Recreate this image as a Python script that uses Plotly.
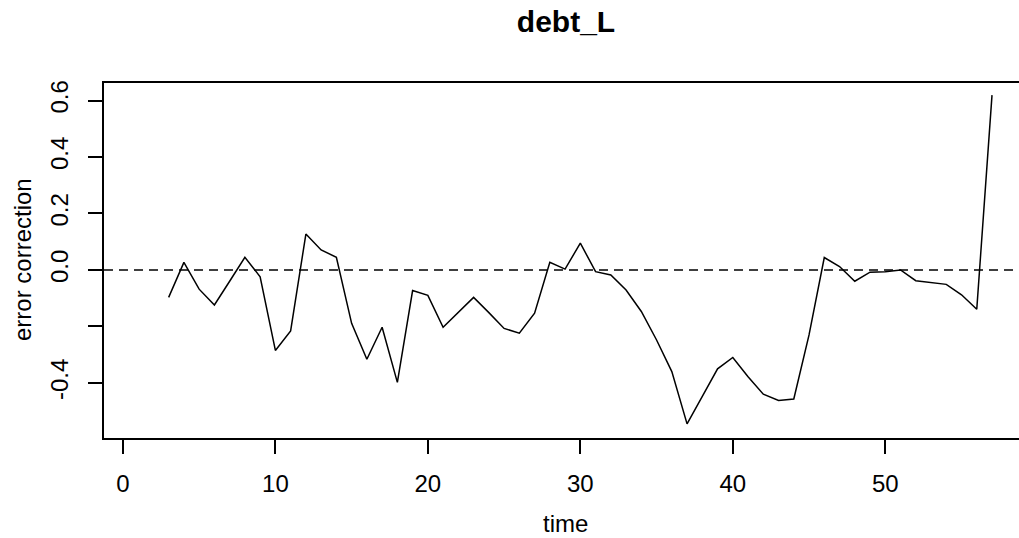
import plotly.graph_objects as go

# data
time = list(range(3, 58))
error_correction = [
    -0.097, 0.027, -0.068, -0.124, -0.040, 0.045, -0.024, -0.285, -0.216, 0.127,
    0.071, 0.045, -0.189, -0.316, -0.203, -0.398, -0.073, -0.090, -0.203, -0.150,
    -0.097, -0.151, -0.207, -0.224, -0.153, 0.027, 0.003, 0.095, -0.006, -0.018,
    -0.071, -0.147, -0.248, -0.360, -0.545, -0.448, -0.350, -0.310, -0.378, -0.440,
    -0.462, -0.457, -0.230, 0.044, 0.012, -0.040, -0.008, -0.006, 0.000, -0.038,
    -0.044, -0.051, -0.088, -0.139, 0.619,
]
x_ticks = [0, 10, 20, 30, 40, 50]
y_ticks = [-0.4, -0.2, 0.0, 0.2, 0.4, 0.6]
y_tick_text = ["-0.4", "", "0.0", "0.2", "0.4", "0.6"]

FONT = "Liberation Sans, Arial, sans-serif"
W, H = 1019, 538

fig = go.Figure()
fig.add_trace(go.Scatter(
    x=time, y=error_correction, mode="lines",
    line=dict(color="black", width=1.5), showlegend=False,
))

fig.add_shape(type="line", xref="paper", yref="y", x0=0, x1=1, y0=0, y1=0,
              line=dict(color="black", width=1.5, dash="9px,6px"))

fig.update_layout(
    width=W, height=H,
    margin=dict(l=104, r=0, t=83, b=100),
    paper_bgcolor="white", plot_bgcolor="white",
    font=dict(family=FONT, color="black", size=24),
    title=dict(text="<b>debt_L</b>", x=566 / W, xanchor="center",
               y=1 - 21 / H, yref="container", yanchor="middle",
               font=dict(size=30, family=FONT, color="black")),
)
fig.update_layout(title_xref="container")

fig.update_xaxes(
    range=[-1.24, 58.77], showgrid=False, zeroline=False,
    showline=True, mirror=True, linecolor="black", linewidth=1.5,
    tickmode="array", tickvals=x_ticks, ticks="outside", ticklen=14,
    tickwidth=1.5, tickcolor="black", tickfont=dict(size=24, family=FONT),
    ticklabelstandoff=9,
)
fig.update_yaxes(
    range=[-0.595, 0.662], showgrid=False, zeroline=False,
    showline=True, mirror=False, linecolor="black", linewidth=1.5,
    tickmode="array", tickvals=y_ticks, ticktext=y_tick_text,
    ticks="outside", ticklen=14, tickwidth=1.5, tickcolor="black",
    tickangle=-90, tickfont=dict(size=24, family=FONT),
    ticklabelstandoff=11,
)

fig.add_annotation(text="time", xref="paper", yref="paper",
                   x=(565 - 104) / 915, y=-(523 - 438) / 355,
                   xanchor="center", yanchor="middle", showarrow=False,
                   font=dict(size=24, family=FONT))
fig.add_annotation(text="error correction", xref="paper", yref="paper",
                   x=-(104 - 22) / 915, y=(438 - 260) / 355, textangle=-90,
                   xanchor="center", yanchor="middle", showarrow=False,
                   font=dict(size=24, family=FONT))

fig.write_html("out.html")
